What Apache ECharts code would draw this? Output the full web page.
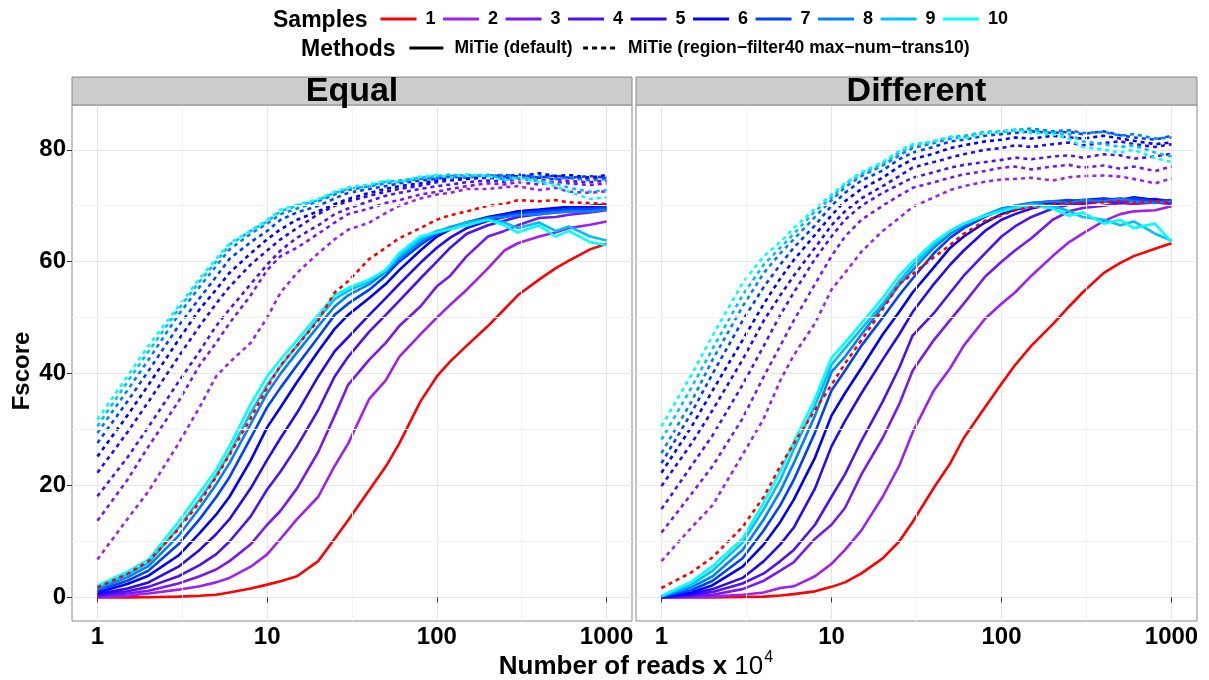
<!DOCTYPE html>
<html><head><meta charset="utf-8">
<script src="https://cdn.jsdelivr.net/npm/echarts@6/dist/echarts.min.js"></script>
<style>html,body{margin:0;padding:0;background:#fff}#chart{width:1209px;height:680px}</style>
</head><body><div id="chart"></div>
<script>
// ---------------- data ----------------
const reads = [1, 1.5, 2, 3, 4, 5, 6, 8, 10, 12, 15, 20, 25, 30, 40, 50, 60, 80, 100, 120, 150, 200, 250, 300, 400, 500, 600, 800, 1000];
const samples = ['1', '2', '3', '4', '5', '6', '7', '8', '9', '10'];
const methods = ['MiTie (default)', 'MiTie (region\u2212filter40 max\u2212num\u2212trans10)'];
const panels = ['Equal', 'Different'];
const xTickValues = [1, 10, 100, 1000];
const yTickValues = [0, 20, 40, 60, 80];

// Equal panel, MiTie (default)  – rows = samples 1..10
const equalDefault = [
  [0, 0.02, 0.05, 0.15, 0.3, 0.5, 0.9, 1.6, 2.3, 2.9, 3.8, 6.5, 10.5, 13.8, 19.2, 23.4, 27.5, 35, 39.5, 42.2, 45, 48.5, 51.5, 54, 56.8, 58.8, 60.2, 62.2, 63.2],
  [0.1, 0.3, 0.7, 1.4, 2, 2.7, 3.5, 5.5, 7.7, 10.5, 14, 18, 23.5, 27.5, 35.5, 38.8, 43, 47, 50, 52.3, 55, 58.8, 62, 63.3, 64.5, 65.2, 66, 66.6, 67.2],
  [0.2, 0.7, 1.2, 2.5, 3.8, 5, 6.5, 9.5, 13, 15.5, 19.5, 26, 32.5, 38, 42.5, 45.5, 48.5, 52, 55.6, 57.5, 61, 64.5, 65.5, 66.5, 67.8, 68, 68.4, 68.8, 69.2],
  [0.4, 1.1, 1.9, 3.8, 5.8, 7.7, 10, 14.5, 19.3, 22.5, 27, 33.5, 39.5, 43, 47.5, 50.5, 53, 57, 60, 62.5, 65, 66.5, 67.3, 68, 68.5, 68.8, 69, 69.3, 69.6],
  [0.6, 1.6, 2.7, 5.5, 8.5, 11.3, 14, 19.5, 24.6, 28.5, 33, 39.5, 44, 46.5, 50.5, 53.5, 56, 59.8, 62.5, 64.3, 66, 67.3, 68, 68.5, 69, 69.3, 69.6, 69.8, 70],
  [0.9, 2.4, 3.9, 7.5, 11.5, 14.8, 18, 24.5, 30.4, 34, 38.5, 44, 48, 50.5, 53.5, 56, 58.5, 62, 64.5, 65.8, 67, 68, 68.5, 69, 69.3, 69.6, 69.8, 70, 70.2],
  [1.2, 3, 4.8, 9.5, 14, 17.9, 21.5, 28.5, 34, 37.5, 41.5, 46.5, 50.5, 52.5, 55, 57.5, 60, 63, 65, 66, 67, 67.8, 68.3, 68.6, 69, 69.2, 69.5, 69.4, 69.7],
  [1.5, 3.6, 5.6, 11, 16, 20.2, 24, 31, 36.5, 40, 43.8, 48.5, 52, 54, 56, 58.2, 60.5, 63.5, 65.3, 66.2, 67, 67.8, 68, 68.3, 68.5, 68.8, 69, 69, 69.3],
  [1.8, 4.1, 6.2, 12.5, 17.5, 21.8, 25.8, 33, 38, 41.3, 45, 49.8, 53.3, 54.8, 56.5, 58.5, 61, 64, 65.5, 66, 67, 67.5, 67, 66, 67, 65.5, 66.3, 64.5, 63.8],
  [2.1, 4.6, 6.8, 13.5, 18.7, 22.8, 27, 34.5, 39.5, 42.5, 46, 50.5, 54, 55.3, 56.8, 58.5, 61.5, 64.5, 65.2, 65.8, 66.5, 67.5, 66.5, 65.2, 66.5, 64.5, 65.5, 63.5, 63]
];
// Equal panel, MiTie (region-filter40 max-num-trans10)
const equalFilter = [
  [1.8, 4.2, 6.5, 12.2, 17, 21.5, 25.5, 32, 37.5, 41.5, 45, 49.5, 54.5, 56.5, 60.5, 62.5, 64.2, 66, 67.5, 68.3, 69, 70, 70.3, 71, 70.8, 71, 70.6, 70.5, 70.3],
  [6.8, 14, 19, 27.5, 34, 39.5, 42, 45.5, 50, 54.5, 58, 61.5, 64, 65.7, 67, 68.7, 70, 71.3, 72, 72.3, 73, 73, 73.3, 73.5, 72.8, 73.2, 72.5, 72.3, 72.6],
  [13.7, 21, 27, 35, 41.5, 45.5, 49, 54, 58.5, 61, 62.5, 65, 67, 68.5, 69.5, 70.5, 71, 72, 72.5, 73, 73.5, 74, 73.8, 74.2, 73.8, 74.3, 74, 73.7, 74],
  [18.1, 25, 30.5, 38.5, 44, 48.5, 51.5, 56, 59.5, 62, 64.3, 66.5, 68.5, 69.5, 70.8, 71.8, 72.3, 73, 73.5, 73.8, 74.2, 74.5, 74.3, 74.8, 74.5, 74.8, 74.4, 74.2, 74.5],
  [22.3, 29.5, 35, 43, 48.5, 52.5, 55.5, 59.5, 62, 64, 66, 68.5, 70, 70.8, 71.8, 72.5, 73, 73.6, 74.2, 74.5, 74.8, 75, 74.8, 75.2, 75, 75.3, 75, 74.8, 75],
  [25.2, 32.5, 38, 46, 51.5, 55, 58, 61.5, 64, 65.8, 67.5, 69, 70.3, 71.2, 72.3, 73, 73.5, 74, 74.5, 75, 74.8, 75.3, 75.5, 75.2, 75.8, 75.3, 75.5, 75, 75.5],
  [27.6, 35, 40.5, 48.5, 53.5, 57.3, 60.5, 63.5, 65.5, 67.5, 68.8, 70, 71.3, 72.3, 73, 73.5, 74, 74.5, 74.8, 75.2, 75, 75.5, 75.2, 75.6, 75, 75.4, 75, 75.3, 75],
  [29.4, 37, 42.5, 50.5, 55.5, 59.2, 62.2, 65, 66.8, 68.5, 69.5, 70.8, 72, 72.8, 73.5, 74, 74.3, 74.8, 75, 75.3, 75.5, 75.2, 75.5, 75, 75.3, 74.8, 75, 74.5, 74.8],
  [30.6, 38.5, 44, 51.5, 56.5, 60, 63, 65.5, 67.2, 69, 70, 71, 72.3, 73, 73.5, 74.3, 74.5, 75, 75.3, 75.6, 75.2, 75.5, 74.8, 75, 74.5, 74, 73.2, 72.5, 72.8],
  [31.8, 39.5, 45, 52, 57, 60.5, 63.3, 65.5, 67.5, 69.3, 70.2, 71.2, 72.5, 73.3, 73.8, 74.5, 74.2, 75.2, 75.5, 75, 75.6, 75.3, 74.5, 75, 74.2, 73.5, 72.5, 71.2, 71.5]
];
// Different panel, MiTie (default)
const differentDefault = [
  [0, 0, 0.02, 0.08, 0.15, 0.35, 0.6, 1.1, 1.9, 2.7, 4.3, 7, 10, 13.5, 19.6, 24, 28.5, 34, 38.2, 41.5, 45, 48.8, 52, 54.5, 58, 59.8, 61, 62.3, 63.3],
  [0, 0.1, 0.2, 0.5, 0.9, 1.7, 2, 3.8, 6, 8.5, 12, 18, 23.5, 29.5, 37, 41, 45, 49.8, 52.5, 54.5, 57.5, 61, 63.5, 65, 67.3, 68.5, 69, 69.2, 69.9],
  [0, 0.2, 0.5, 1.5, 3, 4.8, 6.3, 10.5, 13, 16, 22, 28.5, 34.5, 40.5, 46, 49.6, 52.5, 57.3, 60, 62, 64.2, 67.5, 69, 69.6, 70, 70.5, 70.3, 70.6, 70.3],
  [0, 0.4, 1, 2.5, 4.3, 6.5, 8.5, 13, 18, 22, 28, 35, 41, 46.8, 50.8, 54.5, 57.5, 61.5, 64.5, 66.3, 68, 69.5, 70.2, 70.3, 70.8, 70.5, 71, 70.6, 70.5],
  [0.05, 0.6, 1.5, 3.5, 6.5, 9.5, 12.5, 19.5, 27, 31.5, 36.5, 42.5, 47, 51, 56, 59.5, 62, 65.5, 67.5, 68.5, 69.5, 70.3, 70.5, 70.8, 71, 71.3, 71, 71.2, 70.8],
  [0.1, 0.9, 2.2, 5.5, 9.5, 13.5, 17.5, 25, 32.5, 36.5, 41, 47, 51, 54.5, 59, 62.5, 64.5, 67, 68.5, 69.3, 70, 70.5, 70.8, 71, 71.3, 71, 71.5, 71, 70.8],
  [0.1, 1.3, 3, 7, 12, 16.5, 21, 29.5, 37, 40.5, 45, 50, 54, 57, 61.5, 64.3, 66, 68, 69.3, 70, 70.5, 70.8, 71, 70.7, 71.2, 71, 71.3, 70.8, 71],
  [0.2, 1.8, 3.8, 8.5, 14, 19, 24, 32.5, 40.3, 43, 47, 52, 55.8, 58.5, 62.5, 65, 66.5, 68.3, 69.5, 70, 70.5, 70.8, 70.5, 71, 70.8, 71.2, 70.8, 70.5, 70.8],
  [0.2, 2.3, 4.8, 9.8, 15.8, 21, 26.5, 34.3, 41.6, 44.5, 48, 52.5, 56.5, 59.3, 63, 65.5, 66.8, 68.3, 69.3, 69.8, 70.2, 70, 69, 68, 67.5, 66.5, 67.2, 65, 63.8],
  [0.3, 2.8, 5.6, 10.5, 17, 22.5, 27.8, 35.5, 42.8, 45.5, 49, 53.5, 57.5, 60, 63.5, 65.5, 66.8, 68.2, 69, 69.6, 70, 69.5, 68.2, 68.8, 66.8, 67.5, 66, 66.8, 63.5]
];
// Different panel, MiTie (region-filter40 max-num-trans10)
const differentFilter = [
  [1.7, 4.5, 7.2, 12.6, 18, 23.5, 27.5, 33.5, 38, 41.8, 46, 51.5, 56, 57.8, 60.8, 63, 65, 67.3, 68.3, 69.2, 69.8, 70.3, 70.5, 70.4, 70.6, 70.8, 70.5, 70.8, 70.6],
  [6.5, 12.5, 16.5, 25.5, 32, 38.8, 43.3, 49, 55, 58, 61.8, 65.5, 67.8, 69.8, 71.5, 72.8, 73.5, 74.3, 74.7, 74.8, 75, 74.5, 75.1, 75.3, 75.4, 75.2, 74.8, 74, 74.9],
  [11.6, 18.5, 23.5, 32, 39.5, 45, 49.5, 56, 61, 64.5, 67.5, 70, 71.8, 73.2, 74.2, 75, 75.6, 76.2, 76.8, 77, 76.5, 77, 77.3, 76.8, 77.2, 76.6, 77, 76.2, 77],
  [15.8, 23.5, 29, 38, 45, 50.5, 54.5, 60.5, 64.5, 67.5, 70, 72.3, 73.8, 75, 76, 76.8, 77.3, 77.8, 78.2, 78.6, 78.3, 78.8, 79, 78.6, 79.2, 79, 78.4, 78.8, 79.3],
  [19.9, 27.5, 33.5, 42.5, 49.5, 54, 57.5, 62.5, 66.5, 69, 71.3, 73.5, 75.3, 76.8, 77.8, 78.6, 79.2, 80, 80.3, 80.8, 80.5, 81, 81.3, 80.8, 81.2, 81.5, 81, 80.5, 81],
  [22.3, 30.5, 37, 46, 52.5, 57, 60.3, 64.8, 68.3, 70.8, 73, 75, 77, 78.3, 79.3, 80.3, 80.8, 81.5, 81.8, 82.2, 82, 82.5, 82.2, 82, 82.5, 82, 81.6, 81, 81.3],
  [24, 33, 40, 49.5, 55.5, 59.5, 62.5, 66.5, 70, 72.3, 74.5, 76.3, 78.3, 79.5, 80.5, 81.5, 81.8, 82.5, 82.8, 83, 83.3, 83, 83.2, 82.8, 83.3, 82.6, 82.2, 81.8, 82.5],
  [25.8, 35, 42.5, 52, 58, 61.5, 64, 68, 71, 73.3, 75.3, 77.2, 79, 80.3, 81.2, 82, 82.3, 83, 83.2, 83.5, 83.8, 83.3, 83.5, 83, 83.2, 82.5, 82.8, 82, 82.2],
  [28.2, 37.5, 44.5, 54, 59.5, 62.5, 65, 69, 71.5, 73.8, 75.7, 77.5, 79.5, 80.7, 81.5, 82.3, 82.5, 83.2, 83.3, 83.6, 83.5, 83, 82.8, 81.5, 81, 80.5, 80.8, 79.5, 78.8],
  [30.6, 39.8, 46.8, 56.2, 61, 63.5, 66, 69.5, 72, 74, 76, 77.8, 79.8, 81, 81.5, 82.3, 82, 83, 83.2, 83.5, 83, 82.8, 82, 80.5, 80, 79.5, 80, 78.5, 77.8]
];

// ---------------- styles ----------------
const sampleColors = ['#FF0000', '#A020F0', '#7818F4', '#5010F7', '#2808FB', '#0000FF', '#0040FF', '#0080FF', '#00BFFF', '#00FFFF'];
const FONT = '"Liberation Sans", Arial, Helvetica, sans-serif';
const panelData = [[equalDefault, equalFilter], [differentDefault, differentFilter]];
const gridBoxes = [{ left: 72, top: 105, width: 560, height: 516 }, { left: 636, top: 105, width: 561, height: 516 }];
const X_MIN = Math.pow(10, -0.15), X_MAX = Math.pow(10, 3.15);
const Y_MIN = -4.2, Y_MAX = 88;

const isPow10 = v => { const l = Math.log10(v); return Math.abs(l - Math.round(l)) < 1e-6; };

const grids = gridBoxes.map(g => Object.assign({ show: true, borderColor: '#8a8a8a', borderWidth: 1, backgroundColor: '#fff', containLabel: false }, g));

const xAxes = gridBoxes.map((g, i) => ({
  type: 'log', logBase: 10, gridIndex: i, min: X_MIN, max: X_MAX,
  axisLine: { show: false },
  axisTick: { show: true, length: 5, lineStyle: { color: '#333', width: 1 }, customValues: xTickValues },
  axisLabel: { show: true, customValues: xTickValues, margin: 4,
    color: '#000', fontSize: 24, fontWeight: 'bold', fontFamily: FONT,
    formatter: v => isPow10(v) ? String(Math.round(v)) : '' },
  splitLine: { show: true, lineStyle: { color: '#e6e6e6', width: 1.2 } }
}));
const yAxes = gridBoxes.map((g, i) => ({
  type: 'value', gridIndex: i, min: Y_MIN, max: Y_MAX, splitNumber: 5,
  axisLine: { show: false },
  axisTick: { show: i === 0, length: 5, lineStyle: { color: '#333', width: 1 }, customValues: yTickValues },
  axisLabel: { show: i === 0, customValues: yTickValues, margin: 6,
    color: '#000', fontSize: 24, fontWeight: 'bold', fontFamily: FONT,
    formatter: v => yTickValues.indexOf(v) >= 0 ? String(v) : '' },
  splitLine: { show: true, lineStyle: { color: '#e6e6e6', width: 1.2 } }
}));

const series = [];
// minor grid helper (drawn under the data)
[0, 1].forEach(p => {
  series.push({
    type: 'line', name: '_minor' + p, xAxisIndex: p, yAxisIndex: p, data: [], z: 1, silent: true, symbol: 'none',
    markLine: { silent: true, symbol: ['none', 'none'], label: { show: false }, animation: false,
      lineStyle: { color: '#f3f3f3', width: 1, type: 'solid' },
      data: [0, 1, 2].map(k => ({ xAxis: Math.pow(10, k + 0.5) })).concat([10, 30, 50, 70].map(v => ({ yAxis: v }))) }
  });
});
[0, 1].forEach(p => {
  [0, 1].forEach(m => {
    samples.forEach((s, si) => {
      const vals = panelData[p][m][si];
      series.push({
        type: 'line', name: s, xAxisIndex: p, yAxisIndex: p, z: 3,
        data: reads.map((x, i) => [x, vals[i]]),
        symbol: 'none', showSymbol: false, silent: true,
        itemStyle: { color: sampleColors[si] },
        lineStyle: { color: sampleColors[si], width: 2.6, type: m === 0 ? 'solid' : [4, 4] }
      });
    });
  });
});
// method legend keys
methods.forEach((name, m) => {
  series.push({ type: 'line', name: name, xAxisIndex: 0, yAxisIndex: 0, data: [], symbol: 'none',
    itemStyle: { color: '#000' }, lineStyle: { color: '#000', width: 2.6, type: m === 0 ? 'solid' : [5, 4] } });
});

const stripGraphics = [];
panels.forEach((name, p) => {
  const g = gridBoxes[p];
  stripGraphics.push({ type: 'rect', shape: { x: g.left, y: 77, width: g.width, height: 28 },
    style: { fill: '#cccccc', stroke: '#8a8a8a', lineWidth: 1 }, z: 10 });
  stripGraphics.push({ type: 'text', x: g.left + g.width / 2, y: 92, z: 11,
    style: { text: name, font: 'bold 34px ' + FONT, fill: '#000', align: 'center', verticalAlign: 'middle', textAlign: 'center', textVerticalAlign: 'middle' } });
});

const option = {
  animation: false,
  backgroundColor: '#fff',
  grid: grids,
  xAxis: xAxes,
  yAxis: yAxes,
  legend: [
    { data: samples, left: 379, top: 10, padding: 0, itemWidth: 36, itemHeight: 3, itemGap: 6, selectedMode: false,
      lineStyle: { width: 3 }, itemStyle: { opacity: 0 },
      textStyle: { color: '#000', fontSize: 18, fontWeight: 'bold', fontFamily: FONT, padding: [0, 0, 0, 4] } },
    { data: methods, left: 408, top: 39, padding: 0, itemWidth: 34, itemHeight: 3, itemGap: 9, selectedMode: false,
      lineStyle: { width: 2.8 }, itemStyle: { opacity: 0 },
      textStyle: { color: '#000', fontSize: 17.5, fontWeight: 'bold', fontFamily: FONT, padding: [0, 0, 0, 6] } }
  ],
  graphic: stripGraphics.concat([
    { type: 'text', x: 273, y: 21, style: { text: 'Samples', font: 'bold 23px ' + FONT, fill: '#000', align: 'left', verticalAlign: 'middle', textAlign: 'left', textVerticalAlign: 'middle' } },
    { type: 'text', x: 301, y: 50, style: { text: 'Methods', font: 'bold 23px ' + FONT, fill: '#000', align: 'left', verticalAlign: 'middle', textAlign: 'left', textVerticalAlign: 'middle' } },
    { type: 'text', x: 22, y: 371, rotation: Math.PI / 2,
      style: { text: 'Fscore', font: 'bold 24px ' + FONT, fill: '#000', align: 'center', verticalAlign: 'middle', textAlign: 'center', textVerticalAlign: 'middle' } },
    { type: 'text', x: 636, y: 665,
      style: { text: '{b|Number of reads x }{n|10}{s|4}', align: 'center', verticalAlign: 'middle', textAlign: 'center', textVerticalAlign: 'middle', fill: '#000',
        rich: {
          b: { fontFamily: FONT, fontSize: 26, fontWeight: 'bold', lineHeight: 30, verticalAlign: 'bottom' },
          n: { fontFamily: FONT, fontSize: 26, fontWeight: 'normal', lineHeight: 30, verticalAlign: 'bottom' },
          s: { fontFamily: FONT, fontSize: 16, fontWeight: 'normal', lineHeight: 30, verticalAlign: 'top', padding: [0, 0, 10, 1] }
        } } }
  ]),
  series: series
};

const chart = echarts.init(document.getElementById('chart'), null, { renderer: 'canvas', width: 1209, height: 680 });
chart.setOption(option);
</script>
</body></html>
